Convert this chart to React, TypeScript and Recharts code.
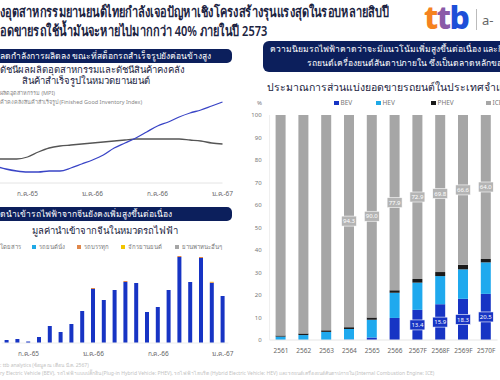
import {
  LineChart,
  Line,
  BarChart,
  Bar,
  XAxis,
  YAxis,
  LabelList,
} from 'recharts';

const FONT = '"Noto Sans", "DejaVu Sans", sans-serif';
const NAVY = '#0c1f5c';

// ---- top-left: production vs inventory index (monthly) ----
const idxMonths = [
  'เม.ย.-65', 'พ.ค.-65', 'มิ.ย.-65', 'ก.ค.-65', 'ส.ค.-65', 'ก.ย.-65', 'ต.ค.-65', 'พ.ย.-65', 'ธ.ค.-65',
  'ม.ค.-66', 'ก.พ.-66', 'มี.ค.-66', 'เม.ย.-66', 'พ.ค.-66', 'มิ.ย.-66', 'ก.ค.-66', 'ส.ค.-66', 'ก.ย.-66',
  'ต.ค.-66', 'พ.ย.-66', 'ธ.ค.-66', 'ม.ค.-67',
];
const mpi = [74, 74, 74, 76, 81, 85, 87, 88, 89, 90, 91, 92, 93, 94, 94, 94, 94, 94, 93, 92, 90, 89];
const inventory = [67, 64, 62, 61, 61, 62, 62, 65, 69, 73, 78, 85, 90, 95, 101, 107, 111, 116, 120, 123, 127, 131];
const idxTicks = ['ก.ค.-65', 'ม.ค.-66', 'ก.ค.-66', 'ม.ค.-67'];

// ---- bottom-left: EV import value from China (monthly) ----
const impMonths = idxMonths.slice(1);
const impBus = [300, 400, 150, 600, 1700, 1100, 1900, 3200, 5400, 4300, 5300, 6100, 6000, 3100, 3600, 5300, 8600, 6100, 8500, 6000, 4700];
const impCar = [0, 0, 0, 0, 0, 0, 0, 0, 0, 0, 0, 0, 0, 0, 0, 0, 0, 0, 0, 0, 0];
const impTruck = [0, 0, 0, 0, 0, 0, 0, 0, 100, 0, 0, 100, 0, 0, 0, 0, 100, 0, 100, 80, 0];
const impMoto = [0, 0, 0, 0, 0, 0, 0, 0, 0, 0, 0, 0, 0, 0, 0, 0, 0, 0, 0, 40, 0];
const impOther = [0, 0, 0, 0, 0, 0, 0, 0, 0, 0, 0, 0, 0, 0, 0, 0, 0, 0, 0, 0, 0];
const impLegend = ['รถยนต์โดยสาร', 'รถยนต์นั่ง', 'รถบรรทุก', 'จักรยานยนต์', 'ยานพาหนะอื่นๆ'];
const impColors = ['#1734c4', '#1fa9e6', '#e0874a', '#f2c500', '#a6a6a6'];

// ---- right: domestic sales share by powertrain ----
const years = ['2561', '2562', '2563', '2564', '2565', '2566', '2567F', '2568F', '2569F', '2570F'];
const bev = [0, 0, 0, 0.2, 1.1, 9.8, 13.4, 15.9, 18.3, 20.5];
const hev = [1.5, 2.2, 3.6, 4.7, 7.9, 11.2, 12.1, 12.5, 13.1, 14.0];
const phev = [0.5, 0.7, 0.7, 0.8, 1.0, 1.1, 1.6, 1.8, 2.0, 1.5];
const ice = [98.0, 97.1, 95.7, 94.3, 90.0, 77.9, 72.9, 69.8, 66.6, 64.0];
const shareTicks = [0, 10, 20, 30, 40, 50, 60, 70, 80, 90, 100];

const idxData = idxMonths.map((m, i) => ({ m, mpi: mpi[i], inv: inventory[i] }));
const impData = impMonths.map((m, i) => ({
  m, bus: impBus[i], car: impCar[i], truck: impTruck[i], moto: impMoto[i], other: impOther[i],
}));
const shareData = years.map((y, i) => ({ y, bev: bev[i], hev: hev[i], phev: phev[i], ice: ice[i] }));

const abs = (left: number, top: number, extra: any = {}) => ({
  position: 'absolute' as const, left, top, whiteSpace: 'nowrap' as const, ...extra,
});
const narrow = (k: number) => ({ transform: `scaleX(${k})`, transformOrigin: 'left top' });

const BoxLabel = (fill: string, minIndex: number) => (props: any) => {
  const { x, y, width, height, value, index } = props;
  if (index < minIndex) return null;
  const cx = x + width / 2;
  const cy = y + height / 2;
  return (
    <g>
      <rect x={cx - 7.5} y={cy - 5} width={15} height={10} fill={fill} stroke="#fff" strokeWidth={0.6} />
      <text x={cx} y={cy + 2.2} textAnchor="middle" fill="#fff" fontSize={6} fontFamily={FONT}>
        {Number(value).toFixed(1)}
      </text>
    </g>
  );
};

export default function App() {
  return (
    <div style={{ position: 'absolute', left: 0, top: 0, width: 500, height: 380, overflow: 'hidden', background: '#fff', fontFamily: FONT }}>
      {/* headline */}
      <div style={abs(0, 2, { fontSize: 14.5, fontWeight: 600, color: '#1b2341', lineHeight: '19px', ...narrow(0.76) })}>
        งอุตสาหกรรมยานยนต์ไทยกำลังเจอปัญหาเชิงโครงสร้างรุนแรงสุดในรอบหลายสิบปี
        <br />
        อดขายรถใช้น้ำมันจะหายไปมากกว่า 40% ภายในปี 2573
      </div>

      {/* logo */}
      <div style={abs(424, 1, { fontSize: 32, fontWeight: 800, letterSpacing: -1.5, lineHeight: '32px' })}>
        <span style={{ color: '#f5821f' }}>t</span>
        <span style={{ color: '#8a5aa8' }}>t</span>
        <span style={{ color: '#1d4fd8' }}>b</span>
      </div>
      <div style={abs(476, 9, { width: 1, height: 21, background: '#bbb' })} />
      <div style={abs(482, 11, { fontSize: 13, color: '#666' })}>a-</div>

      {/* left banners */}
      <div style={abs(-10, 49, { width: 242, height: 14, background: NAVY, borderRadius: 5, color: '#fff', fontSize: 8.5, lineHeight: '14px', paddingLeft: 10, boxSizing: 'border-box' })}>
        ลดกำลังการผลิตลง ขณะที่สต็อกรถสำเร็จรูปยังค่อนข้างสูง
      </div>
      <div style={abs(-10, 207, { width: 242, height: 14, background: NAVY, borderRadius: 5, color: '#fff', fontSize: 8.5, lineHeight: '14px', paddingLeft: 10, boxSizing: 'border-box' })}>
        ดนำเข้ารถไฟฟ้าจากจีนยังคงเพิ่มสูงขึ้นต่อเนื่อง
      </div>

      {/* right banner */}
      <div style={abs(263, 41, { width: 250, height: 31, background: NAVY, borderRadius: 6, color: '#fff', fontSize: 8.5, lineHeight: '14px' })}>
        <div style={abs(7, 1)}>ความนิยมรถไฟฟ้าคาดว่าจะมีแนวโน้มเพิ่มสูงขึ้นต่อเนื่อง และกินส่วนแบ่ง</div>
        <div style={abs(44, 15)}>รถยนต์เครื่องยนต์สันดาปภายใน ซึ่งเป็นตลาดหลักของ</div>
      </div>

      {/* top-left chart */}
      <div style={abs(0, 65, { width: 172, textAlign: 'center', fontSize: 9.5, color: '#1b2341', lineHeight: '10.5px' })}>
        ดัชนีผลผลิตอุตสาหกรรมและดัชนีสินค้าคงคลัง<br />สินค้าสำเร็จรูปในหมวดยานยนต์
      </div>
      <div style={abs(0, 89, { fontSize: 5.5, color: '#888', lineHeight: '9px' })}>
        ผลิตอุตสาหกรรม (MPI)<br />ค้าคงคลังสินค้าสำเร็จรูป (Finished Good Inventory Index)
      </div>
      <div style={abs(-5.5, 83)}>
        <LineChart width={247.5} height={120} data={idxData} margin={{ top: 10, right: 20, bottom: 0, left: 0 }}>
          <XAxis
            dataKey="m"
            height={20}
            interval={0}
            tickLine={false}
            axisLine={{ stroke: '#e4e4e4' }}
            tick={{ fontSize: 6.5, fill: '#666', fontFamily: FONT }}
            tickFormatter={(v: string) => (idxTicks.includes(v) ? v : '')}
          />
          <YAxis hide domain={[50, 140]} />
          <Line type="monotone" dataKey="mpi" stroke="#555" strokeWidth={1.3} dot={false} isAnimationActive={false} />
          <Line type="monotone" dataKey="inv" stroke="#3944c6" strokeWidth={1.3} dot={false} isAnimationActive={false} />
        </LineChart>
      </div>

      {/* bottom-left chart */}
      <div style={abs(32, 223, { fontSize: 9.5, color: '#1b2341' })}>มูลค่านำเข้าจากจีนในหมวดรถไฟฟ้า</div>
      {impLegend.map((name, i) => {
        const xs = [-26, 32, 77, 121, 175];
        return (
          <div key={name} style={abs(xs[i], 243, { fontSize: 6, color: '#777', lineHeight: '8px' })}>
            <span style={{ display: 'inline-block', width: 4, height: 4, background: impColors[i], marginRight: 3 }} />
            {name}
          </div>
        );
      })}
      <div style={abs(0, 243)}>
        <BarChart width={250} height={120} data={impData} margin={{ top: 10, right: 21.6, bottom: 0, left: 1.6 }}>
          <XAxis
            dataKey="m"
            height={20}
            interval={0}
            tickLine={false}
            axisLine={{ stroke: '#eeeeee' }}
            tick={{ fontSize: 6.5, fill: '#666', fontFamily: FONT }}
            tickFormatter={(v: string) => (idxTicks.includes(v) ? v : '')}
          />
          <YAxis hide domain={[0, 9000]} />
          <Bar dataKey="bus" stackId="a" fill={impColors[0]} barSize={4} isAnimationActive={false} />
          <Bar dataKey="car" stackId="a" fill={impColors[1]} barSize={4} isAnimationActive={false} />
          <Bar dataKey="truck" stackId="a" fill={impColors[2]} barSize={4} isAnimationActive={false} />
          <Bar dataKey="moto" stackId="a" fill={impColors[3]} barSize={4} isAnimationActive={false} />
          <Bar dataKey="other" stackId="a" fill={impColors[4]} barSize={4} isAnimationActive={false} />
        </BarChart>
      </div>

      {/* right chart */}
      <div style={abs(267, 79, { fontSize: 10.5, color: '#1b2341' })}>ประมาณการส่วนแบ่งยอดขายรถยนต์ในประเทศจำแนกตามประเภท</div>
      <div style={abs(257, 99, { fontSize: 6, color: '#777' })}>%</div>
      {['BEV', 'HEV', 'PHEV', 'ICE'].map((name, i) => {
        const xs = [334, 376, 431, 486];
        const cs = ['#1734c4', '#1fa9e6', '#1a1a1a', '#a6a6a6'];
        return (
          <div key={name} style={abs(xs[i], 99, { fontSize: 6.5, color: '#777', lineHeight: '8px' })}>
            <span style={{ display: 'inline-block', width: 4.5, height: 4.5, background: cs[i], marginRight: 2 }} />
            {name}
          </div>
        );
      })}
      <div style={abs(250, 95)}>
        <BarChart width={260} height={265} data={shareData} margin={{ top: 20, right: 12.4, bottom: 0, left: 0 }}>
          <XAxis
            dataKey="y"
            height={20}
            tickLine={false}
            axisLine={{ stroke: '#e6e6e6' }}
            tick={{ fontSize: 6.5, fill: '#666', fontFamily: FONT }}
          />
          <YAxis
            width={19.6}
            domain={[0, 100]}
            ticks={shareTicks}
            tickLine={false}
            axisLine={{ stroke: '#eeeeee' }}
            tick={{ fontSize: 6, fill: '#777', fontFamily: FONT }}
          />
          <Bar dataKey="bev" stackId="s" fill="#1734c4" barSize={10} isAnimationActive={false}>
            <LabelList dataKey="bev" content={BoxLabel('#1734c4', 3)} />
          </Bar>
          <Bar dataKey="hev" stackId="s" fill="#1fa9ee" barSize={10} isAnimationActive={false} />
          <Bar dataKey="phev" stackId="s" fill="#1a1a1a" barSize={10} isAnimationActive={false} />
          <Bar dataKey="ice" stackId="s" fill="#a6a6a6" barSize={10} isAnimationActive={false}>
            <LabelList dataKey="ice" content={BoxLabel('#b4b4b4', 3)} />
          </Bar>
        </BarChart>
      </div>

      {/* footnotes */}
      <div style={abs(0, 361, { fontSize: 5, color: '#c2c2c2', lineHeight: '8px' })}>
        : ttb analytics (ข้อมูล ณ เดือน มี.ค. 2567)
        <br />
        ry Electric Vehicle (BEV), รถไฟฟ้าแบบปลั๊กอิน (Plug-in Hybrid Vehicle: PHEV), รถไฟฟ้าไฮบริด (Hybrid Electric Vehicle: HEV) และรถยนต์เครื่องยนต์สันดาปภายใน (Internal Combustion Engine: ICE)
      </div>
    </div>
  );
}
